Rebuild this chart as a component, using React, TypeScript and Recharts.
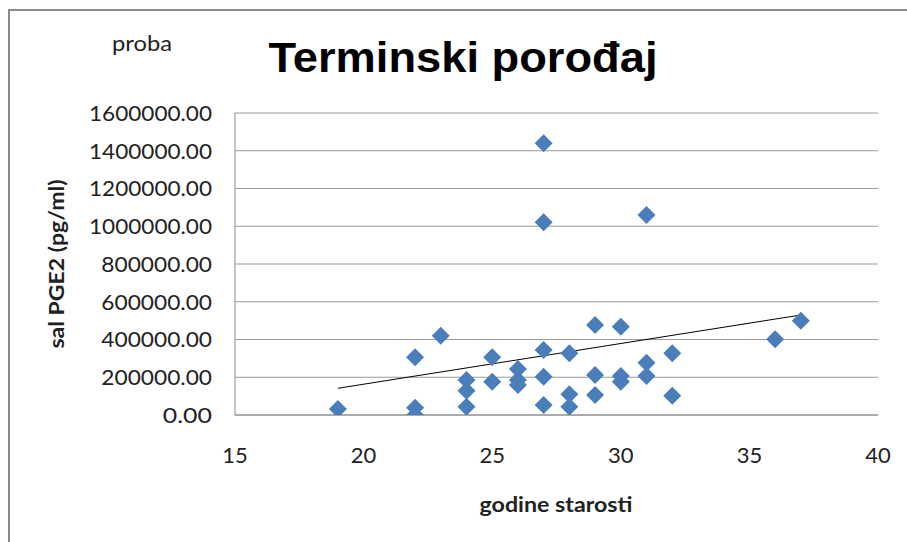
import React from "react";
import {
  ScatterChart,
  Scatter,
  XAxis,
  YAxis,
  CartesianGrid,
  ReferenceLine,
} from "recharts";

// Age (godine starosti)
const ages = [
  19, 22, 22, 22, 23, 24, 24, 24, 25, 25, 26, 26, 26, 27, 27, 27, 27, 27, 28, 28,
  28, 29, 29, 29, 30, 30, 30, 31, 31, 31, 32, 32, 36, 37,
];
// sal PGE2 (pg/ml)
const pge2 = [
  32000, 305700, 38700, 0, 420100, 185400, 128800, 44000, 305700, 176400, 243700,
  185400, 159000, 1439500, 1020900, 344400, 203000, 53000, 326900, 109700, 44000,
  476800, 211900, 106000, 468000, 206600, 176400, 1059600, 277100, 206600, 326900,
  102300, 401000, 499600,
];
// Linear trendline end points
const trendX = [19, 37];
const trendY = [141500, 529800];

const xTicks = [15, 20, 25, 30, 35, 40];
const yTicks = [0, 200000, 400000, 600000, 800000, 1000000, 1200000, 1400000, 1600000];

const title = "Terminski porođaj";
const subtitle = "proba";
const xLabel = "godine starosti";
const yLabel = "sal PGE2 (pg/ml)";

const points = ages.map((a, i) => ({ x: a, y: pge2[i] }));

const FONT = "Lato, 'Open Sans', sans-serif";

const Diamond = (props: any) => {
  const { cx, cy } = props;
  if (cx == null || cy == null) return null;
  const r = 9;
  return (
    <path
      d={`M${cx},${cy - r}L${cx + r},${cy}L${cx},${cy + r}L${cx - r},${cy}Z`}
      fill="#4A7EBB"
    />
  );
};

const YTick = (props: any) => {
  const { y, payload } = props;
  return (
    <text
      x={212}
      y={y}
      dy="0.36em"
      textAnchor="end"
      fontFamily={FONT}
      fontSize={22}
      fill="#222"
      textLength={String(Number(payload.value).toFixed(2)).length * 12.3}
      lengthAdjust="spacingAndGlyphs"
    >
      {Number(payload.value).toFixed(2)}
    </text>
  );
};

const XTick = (props: any) => {
  const { x, payload } = props;
  return (
    <text
      x={x}
      y={463}
      textAnchor="middle"
      fontFamily={FONT}
      fontSize={22}
      fill="#222"
    >
      {payload.value}
    </text>
  );
};

export default function App() {
  return (
    <div
      style={{
        position: "fixed",
        left: 0,
        top: 0,
        width: 907,
        height: 542,
        overflow: "hidden",
        background: "#fff",
      }}
    >
      <div
        style={{
          position: "absolute",
          left: 8,
          top: 9,
          width: 1200,
          height: 1200,
          borderLeft: "2px solid #8a8a8a",
          borderTop: "2px solid #8a8a8a",
        }}
      />
      <div style={{ position: "absolute", left: 0, top: 0 }}>
        <ScatterChart
          width={907}
          height={542}
          margin={{ top: 113, right: 29, bottom: 77, left: 0 }}
        >
          <CartesianGrid vertical={false} stroke="#9a9a9a" strokeWidth={1} />
          <XAxis
            type="number"
            dataKey="x"
            domain={[15, 40]}
            ticks={xTicks}
            allowDataOverflow
            height={50}
            axisLine={{ stroke: "#8a8a8a" }}
            tickLine={false}
            tick={<XTick />}
          />
          <YAxis
            type="number"
            dataKey="y"
            domain={[0, 1600000]}
            ticks={yTicks}
            allowDataOverflow
            width={235}
            axisLine={{ stroke: "#8a8a8a" }}
            tickLine={false}
            tick={<YTick />}
          />
          <Scatter
            data={points}
            shape={<Diamond />}
            isAnimationActive={false}
          />
          <ReferenceLine
            segment={[
              { x: trendX[0], y: trendY[0] },
              { x: trendX[1], y: trendY[1] },
            ]}
            stroke="#000"
            strokeWidth={1}
            ifOverflow="visible"
          />
        </ScatterChart>
      </div>
      <svg
        width={907}
        height={542}
        style={{ position: "absolute", left: 0, top: 0, pointerEvents: "none" }}
      >
        <text
          x={142}
          y={51}
          textAnchor="middle"
          fontFamily={FONT}
          fontSize={22}
          fill="#222"
          textLength={60}
          lengthAdjust="spacingAndGlyphs"
        >
          {subtitle}
        </text>
        <text
          x={463}
          y={72}
          textAnchor="middle"
          fontFamily="'Liberation Sans', Arial, sans-serif"
          fontWeight="bold"
          fontSize={43}
          fill="#000"
          textLength={389}
          lengthAdjust="spacingAndGlyphs"
        >
          {title}
        </text>
        <text
          x={556}
          y={512}
          textAnchor="middle"
          fontFamily={FONT}
          fontWeight="bold"
          fontSize={21}
          fill="#222"
          textLength={153}
          lengthAdjust="spacingAndGlyphs"
        >
          {xLabel}
        </text>
        <text
          transform="translate(64,264) rotate(-90)"
          x={0}
          y={0}
          textAnchor="middle"
          fontFamily={FONT}
          fontWeight="bold"
          fontSize={21}
          fill="#222"
          textLength={169}
          lengthAdjust="spacingAndGlyphs"
        >
          {yLabel}
        </text>
      </svg>
    </div>
  );
}
